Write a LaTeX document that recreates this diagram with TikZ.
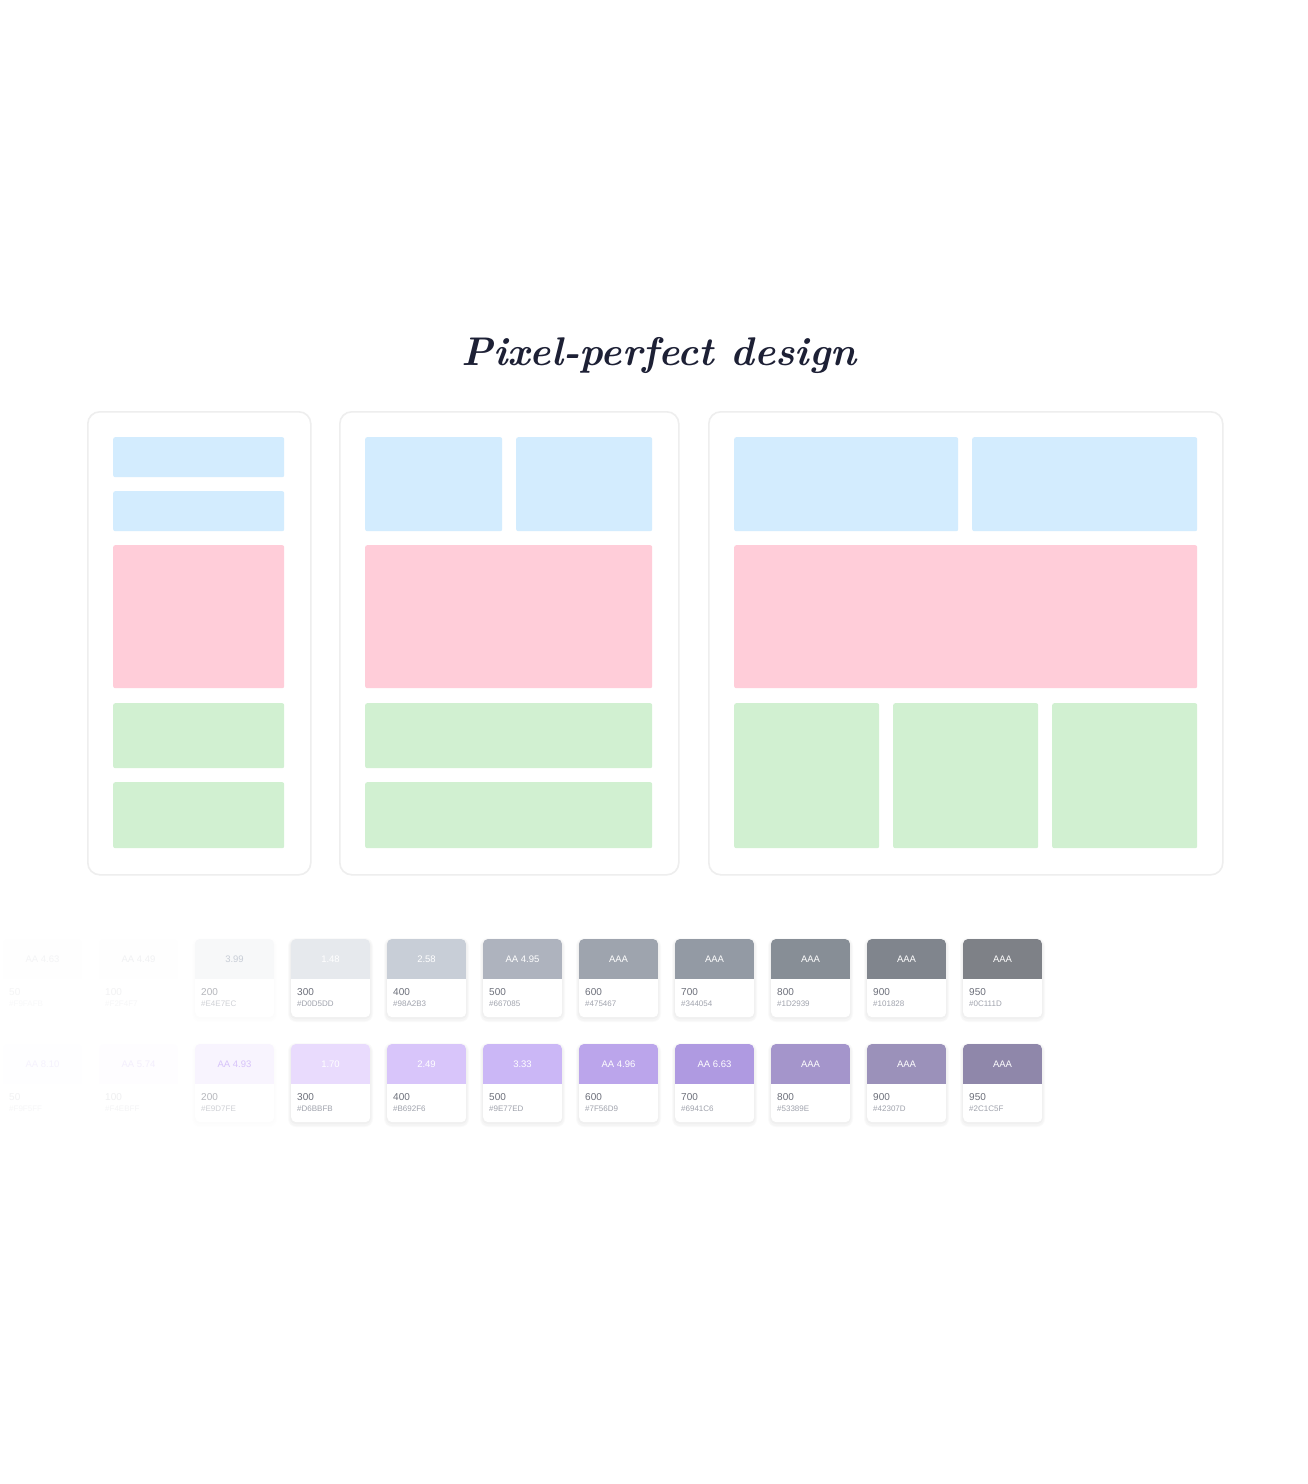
\documentclass[tikz,border=0pt]{standalone}
\usepackage{fontspec}
\newfontfamily\swfont{Liberation Sans}
\definecolor{titlecol}{HTML}{1D2035}
\definecolor{panelline}{HTML}{EEEEEE}
\definecolor{bluebk}{HTML}{D3ECFE}
\definecolor{pinkbk}{HTML}{FFCDD9}
\definecolor{greenbk}{HTML}{D1F0D1}
\definecolor{numcol}{HTML}{6C6F7A}
\definecolor{hexcol}{HTML}{A0A3AD}
\definecolor{gA}{HTML}{F9FAFB}
\definecolor{gB}{HTML}{F2F4F7}
\definecolor{gC}{HTML}{E4E7EC}
\definecolor{gD}{HTML}{D0D5DD}
\definecolor{gE}{HTML}{98A2B3}
\definecolor{gF}{HTML}{667085}
\definecolor{gG}{HTML}{475467}
\definecolor{gH}{HTML}{344054}
\definecolor{gI}{HTML}{1D2939}
\definecolor{gJ}{HTML}{101828}
\definecolor{gK}{HTML}{0C111D}
\definecolor{pA}{HTML}{F9F5FF}
\definecolor{pB}{HTML}{F4EBFF}
\definecolor{pC}{HTML}{E9D7FE}
\definecolor{pD}{HTML}{D6BBFB}
\definecolor{pE}{HTML}{B692F6}
\definecolor{pF}{HTML}{9E77ED}
\definecolor{pG}{HTML}{7F56D9}
\definecolor{pH}{HTML}{6941C6}
\definecolor{pI}{HTML}{53389E}
\definecolor{pJ}{HTML}{42307D}
\definecolor{pK}{HTML}{2C1C5F}
\tikzset{
  panel/.style={draw=panelline, line width=1.6pt, fill=white, rounded corners=12pt, inner sep=0pt, anchor=north west},
  blockbox/.style={rounded corners=2pt, inner sep=0pt, anchor=north west, draw=none},
  cardbox/.style={fill=white, rounded corners=5pt, inner sep=0pt, anchor=north west, minimum width=79pt, minimum height=78pt},
  swlabel/.style={font=\swfont\fontsize{9.5}{11}\selectfont, inner sep=0pt},
  swnum/.style={font=\swfont\fontsize{10}{12}\selectfont, text=numcol, inner sep=0pt, anchor=west},
  swhex/.style={font=\swfont\fontsize{8}{9}\selectfont, text=hexcol, inner sep=0pt, anchor=west},
}
% name, color, x, y, width, height
\newcommand\mkblk[6]{\node[blockbox, fill=#2, minimum width=#5pt, minimum height=#6pt] (#1) at (#3,#4) {};}
% name, x, y, colour, label, label colour, number, hex, opacity
\newcommand\mkcard[9]{%
  \pgfmathsetmacro\shopa{0.018*#9*#9}%
  \fill[black, opacity=\shopa, rounded corners=8pt] (#2-3,#3-1) rectangle ++(85,84);
  \fill[black, opacity=\shopa, rounded corners=7pt] (#2-2,#3) rectangle ++(83,82);
  \fill[black, opacity=\shopa, rounded corners=6pt] (#2-1,#3+1) rectangle ++(81,79);
  \node[cardbox] (#1) at (#2,#3) {};
  \begin{scope}
    \clip[rounded corners=5pt] (#2,#3) rectangle ++(79,78);
    \fill[#4!53!white, opacity=#9] (#2,#3) rectangle ++(79,40);
  \end{scope}
  \node[swlabel, text=#6, opacity=#9] (#1-l) at (#2+39.5,#3+20) {#5};
  \node[swnum, opacity=#9] (#1-n) at (#2+6,#3+53) {#7};
  \node[swhex, opacity=#9] (#1-h) at (#2+6,#3+65) {#8};
}
\begin{document}
\begin{tikzpicture}[x=1pt,y=-1pt]
\useasboundingbox (0,0) rectangle (1308,1484);
\fill[white] (0,0) rectangle (1308,1484);

\node[font=\fontsize{40}{48}\selectfont\itshape\bfseries, text=titlecol, inner sep=0pt] (title) at (659,355) {Pixel-perfect design};

% panel 1
\node[panel, minimum width=223pt, minimum height=463pt] (pa) at (87,411) {};
\mkblk{pa1}{bluebk}{113}{437}{171}{40}
\mkblk{pa2}{bluebk}{113}{491}{171}{40}
\mkblk{pa3}{pinkbk}{113}{545}{171}{143}
\mkblk{pa4}{greenbk}{113}{703}{171}{65}
\mkblk{pa5}{greenbk}{113}{782}{171}{66}
% panel 2
\node[panel, minimum width=339pt, minimum height=463pt] (pb) at (339,411) {};
\mkblk{pb1}{bluebk}{365}{437}{137}{94}
\mkblk{pb2}{bluebk}{516}{437}{136}{94}
\mkblk{pb3}{pinkbk}{365}{545}{287}{143}
\mkblk{pb4}{greenbk}{365}{703}{287}{65}
\mkblk{pb5}{greenbk}{365}{782}{287}{66}
% panel 3
\node[panel, minimum width=514pt, minimum height=463pt] (pc) at (708,411) {};
\mkblk{pc1}{bluebk}{734}{437}{224}{94}
\mkblk{pc2}{bluebk}{972}{437}{225}{94}
\mkblk{pc3}{pinkbk}{734}{545}{463}{143}
\mkblk{pc4}{greenbk}{734}{703}{145}{145}
\mkblk{pc5}{greenbk}{893}{703}{145}{145}
\mkblk{pc6}{greenbk}{1052}{703}{145}{145}

% gray row
\mkcard{ga}{3}{939}{gA}{AA 4.63}{gF}{50}{\#F9FAFB}{0.07}
\mkcard{gb}{99}{939}{gB}{AA 4.49}{gF}{100}{\#F2F4F7}{0.09}
\mkcard{gc}{195}{939}{gC}{3.99}{gE}{200}{\#E4E7EC}{0.5}
\mkcard{gd}{291}{939}{gD}{1.48}{white}{300}{\#D0D5DD}{1}
\mkcard{ge}{387}{939}{gE}{2.58}{white}{400}{\#98A2B3}{1}
\mkcard{gf}{483}{939}{gF}{AA 4.95}{white}{500}{\#667085}{1}
\mkcard{gg}{579}{939}{gG}{AAA}{white}{600}{\#475467}{1}
\mkcard{gh}{675}{939}{gH}{AAA}{white}{700}{\#344054}{1}
\mkcard{gi}{771}{939}{gI}{AAA}{white}{800}{\#1D2939}{1}
\mkcard{gj}{867}{939}{gJ}{AAA}{white}{900}{\#101828}{1}
\mkcard{gk}{963}{939}{gK}{AAA}{white}{950}{\#0C111D}{1}

% purple row
\mkcard{pa}{3}{1044}{pA}{AA 8.10}{pF}{50}{\#F9F5FF}{0.09}
\mkcard{pb}{99}{1044}{pB}{AA 5.74}{pF}{100}{\#F4EBFF}{0.11}
\mkcard{pc}{195}{1044}{pC}{AA 4.93}{pE}{200}{\#E9D7FE}{0.5}
\mkcard{pd}{291}{1044}{pD}{1.70}{white}{300}{\#D6BBFB}{1}
\mkcard{pe}{387}{1044}{pE}{2.49}{white}{400}{\#B692F6}{1}
\mkcard{pf}{483}{1044}{pF}{3.33}{white}{500}{\#9E77ED}{1}
\mkcard{pg}{579}{1044}{pG}{AA 4.96}{white}{600}{\#7F56D9}{1}
\mkcard{ph}{675}{1044}{pH}{AA 6.63}{white}{700}{\#6941C6}{1}
\mkcard{pi}{771}{1044}{pI}{AAA}{white}{800}{\#53389E}{1}
\mkcard{pj}{867}{1044}{pJ}{AAA}{white}{900}{\#42307D}{1}
\mkcard{pk}{963}{1044}{pK}{AAA}{white}{950}{\#2C1C5F}{1}
\end{tikzpicture}
\end{document}
